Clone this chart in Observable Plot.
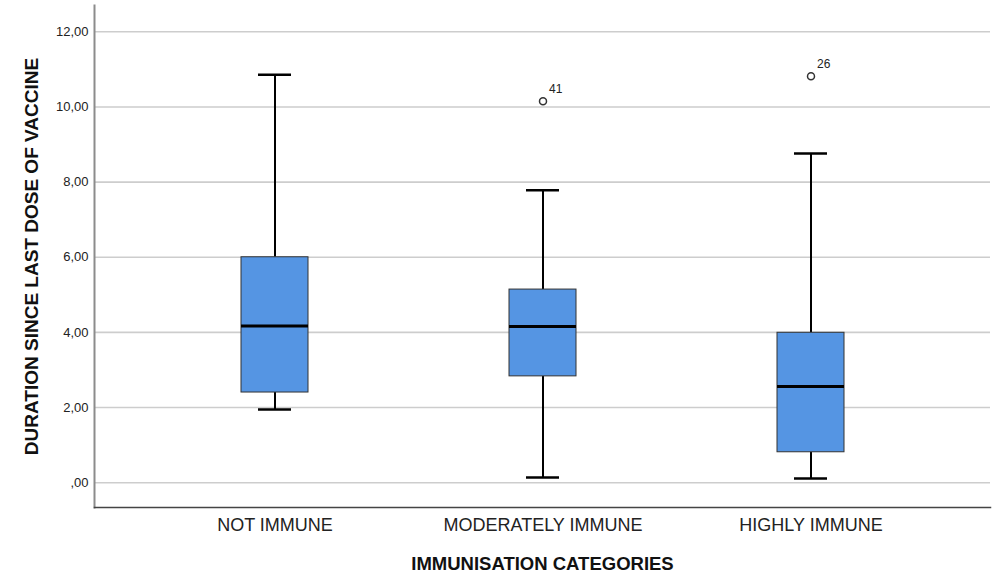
<!DOCTYPE html>
<html>
<head>
<meta charset="utf-8">
<script src="https://cdn.jsdelivr.net/npm/d3@7"></script>
<script src="https://cdn.jsdelivr.net/npm/@observablehq/plot@0.6"></script>
<style>
  html, body { margin: 0; padding: 0; background: #fff; }
  #chart svg { display: block; }
</style>
</head>
<body>
<div id="chart"></div>
<script>
// ---- data ----
const categories   = ["NOT IMMUNE", "MODERATELY IMMUNE", "HIGHLY IMMUNE"];
const whiskerLow   = [1.95, 0.14, 0.11];
const q1           = [2.40, 2.83, 0.81];
const median       = [4.17, 4.16, 2.56];
const q3           = [6.00, 5.14, 3.99];
const whiskerHigh  = [10.86, 7.78, 8.76];

const outlierCategories = ["MODERATELY IMMUNE", "HIGHLY IMMUNE"];
const outlierValues     = [10.15, 10.82];
const outlierLabels     = ["41", "26"];

const yTicks = [0, 2, 4, 6, 8, 10, 12];
const xTitle = "IMMUNISATION CATEGORIES";
const yTitle = "DURATION SINCE LAST DOSE OF VACCINE";

// ---- tables built from the arrays ----
const boxes = categories.map((c, i) => ({
  cat: c, lo: whiskerLow[i], q1: q1[i], med: median[i], q3: q3[i], hi: whiskerHigh[i]
}));
const outliers = outlierCategories.map((c, i) => ({cat: c, v: outlierValues[i], label: outlierLabels[i]}));

const fmt = d => d === 0 ? ",00" : d.toFixed(2).replace(".", ",");
const font = "'Liberation Sans', Arial, sans-serif";

const chart = Plot.plot({
  width: 1000,
  height: 583,
  marginLeft: 94,
  marginRight: 10,
  marginTop: 5,
  marginBottom: 76,
  style: {fontFamily: font, background: "#fff", color: "#222"},
  x: {type: "band", domain: categories, paddingInner: 0.751, paddingOuter: 0.543, axis: null},
  y: {domain: [-0.66, 12.7], axis: null},
  marks: [
    Plot.gridY(yTicks, {stroke: "#cdcdcd", strokeOpacity: 1, strokeWidth: 1.6}),
    Plot.frame({anchor: "left", stroke: "#8c8c8c", strokeWidth: 2}),
    Plot.frame({anchor: "bottom", stroke: "#444", strokeWidth: 1.5}),
    Plot.axisY(yTicks, {tickSize: 0, tickPadding: 6, fontSize: 13, tickFormat: fmt, label: null, fill: "#222"}),
    Plot.axisX({tickSize: 0, tickPadding: 11, fontSize: 18, label: null, fill: "#222", fontWeight: 300}),
    Plot.text([xTitle], {frameAnchor: "bottom", dy: 57, fontSize: 18.5, fontWeight: "bold", fill: "#111", lineAnchor: "middle", textAnchor: "middle"}),
    Plot.text([yTitle], {frameAnchor: "left", rotate: -90, dx: -63, fontSize: 19, fontWeight: "bold", fill: "#111", lineAnchor: "middle", textAnchor: "middle"}),
    // whiskers
    Plot.ruleX(boxes, {x: "cat", y1: "lo", y2: "q1", stroke: "#000", strokeWidth: 2}),
    Plot.ruleX(boxes, {x: "cat", y1: "q3", y2: "hi", stroke: "#000", strokeWidth: 2}),
    Plot.tickY(boxes, {x: "cat", y: "lo", stroke: "#000", strokeWidth: 2.5, inset: 17}),
    Plot.tickY(boxes, {x: "cat", y: "hi", stroke: "#000", strokeWidth: 2.5, inset: 17}),
    // boxes
    Plot.barY(boxes, {x: "cat", y1: "q1", y2: "q3", fill: "#5595e3", stroke: "#333", strokeWidth: 1}),
    Plot.tickY(boxes, {x: "cat", y: "med", stroke: "#000", strokeWidth: 3}),
    // outliers
    Plot.dot(outliers, {x: "cat", y: "v", r: 3.5, stroke: "#333", fill: "#fff", strokeWidth: 1.5}),
    Plot.text(outliers, {x: "cat", y: "v", text: "label", dx: 6, dy: -12, textAnchor: "start", fontSize: 12, fill: "#222"})
  ]
});
document.getElementById("chart").append(chart);
</script>
</body>
</html>
